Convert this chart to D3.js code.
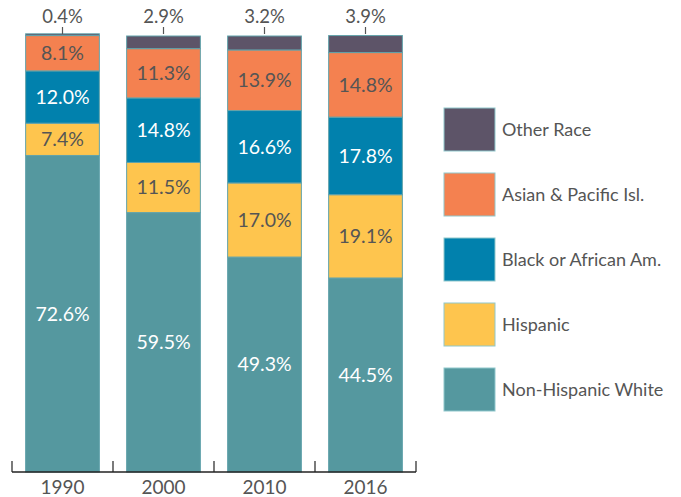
<!DOCTYPE html>
<html>
<head>
<meta charset="utf-8">
<script src="https://cdn.jsdelivr.net/npm/d3@7"></script>
<style>
  html, body { margin: 0; padding: 0; background: #fff; }
  svg { display: block; font-family: Lato, "Noto Sans", sans-serif; }
</style>
</head>
<body>
<svg id="chart" width="681" height="497"></svg>
<script>
const years = ["1990", "2000", "2010", "2016"];
const series = ["Non-Hispanic White", "Hispanic", "Black or African Am.", "Asian & Pacific Isl.", "Other Race"];
const white    = [72.6, 59.5, 49.3, 44.5];
const hispanic = [7.4, 11.5, 17.0, 19.1];
const black    = [12.0, 14.8, 16.6, 17.8];
const asian    = [8.1, 11.3, 13.9, 14.8];
const other    = [0.4, 2.9, 3.2, 3.9];
const colors = ["#55989f", "#fec54e", "#0181ad", "#f48150", "#5d5468"];
const labelColors = ["#ffffff", "#555555", "#ffffff", "#555555", "#555555"];

const values = [white, hispanic, black, asian, other];
const rows = years.map((yr, i) => {
  const r = { year: yr };
  series.forEach((s, k) => r[s] = values[k][i]);
  return r;
});

const svg = d3.select("#chart");
const x = d3.scaleBand().domain(years).range([12, 416]).paddingInner(0.27).paddingOuter(0.135);
const y = d3.scaleLinear().domain([0, 100]).range([472, 36]);

const stacked = d3.stack().keys(series)(rows);

const layers = svg.append("g").selectAll("g")
  .data(stacked).join("g")
  .attr("fill", (d, i) => colors[i]);

layers.selectAll("rect")
  .data(d => d)
  .join("rect")
  .attr("x", d => x(d.data.year))
  .attr("width", x.bandwidth())
  .attr("y", d => y(d[1]))
  .attr("height", d => y(d[0]) - y(d[1]))
  .attr("stroke", "#62a3ab")
  .attr("stroke-width", 1);

// labels inside segments (the top "Other Race" series is labelled above)
stacked.forEach((layer, i) => {
  if (i === series.length - 1) return;
  svg.append("g").selectAll("text")
    .data(layer).join("text")
    .attr("x", d => x(d.data.year) + x.bandwidth() / 2)
    .attr("y", d => (y(d[0]) + y(d[1])) / 2)
    .attr("dy", "0.35em")
    .attr("text-anchor", "middle")
    .attr("font-size", 19.5)
    .attr("fill", labelColors[i])
    .text(d => d.data[layer.key].toFixed(1) + "%");
});

// labels above bars for "Other Race"
const topLayer = stacked[series.length - 1];
svg.append("g").selectAll("text")
  .data(topLayer).join("text")
  .attr("x", d => x(d.data.year) + x.bandwidth() / 2)
  .attr("y", 22.5)
  .attr("text-anchor", "middle")
  .attr("font-size", 18.5)
  .attr("fill", "#555555")
  .text(d => d.data["Other Race"].toFixed(1) + "%");
svg.append("g").selectAll("line")
  .data(topLayer).join("line")
  .attr("x1", d => x(d.data.year) + x.bandwidth() / 2)
  .attr("x2", d => x(d.data.year) + x.bandwidth() / 2)
  .attr("y1", 27).attr("y2", 34)
  .attr("stroke", "#555").attr("stroke-width", 1.2);

// x axis
const axisG = svg.append("g").attr("transform", "translate(0,472)");
axisG.append("line")
  .attr("x1", x.range()[0]).attr("x2", x.range()[1])
  .attr("stroke", "#222").attr("stroke-width", 1.3);
const step = x.step();
const bounds = years.map(yr => x(yr) - step * x.paddingInner() / 2).concat([x.range()[1]]);
axisG.selectAll("line.tick").data(bounds).join("line")
  .attr("class", "tick")
  .attr("x1", d => d).attr("x2", d => d)
  .attr("y1", 0).attr("y2", -11)
  .attr("stroke", "#222").attr("stroke-width", 1.2);
axisG.selectAll("text").data(years).join("text")
  .attr("x", d => x(d) + x.bandwidth() / 2)
  .attr("y", 22)
  .attr("text-anchor", "middle")
  .attr("font-size", 19)
  .attr("fill", "#555555")
  .text(d => d);

// legend
const legendOrder = series.slice().reverse();
const legend = svg.append("g").attr("transform", "translate(444,108)");
const li = legend.selectAll("g").data(legendOrder).join("g")
  .attr("transform", (d, i) => `translate(0,${i * 65})`);
li.append("rect")
  .attr("width", 51).attr("height", 43)
  .attr("fill", d => colors[series.indexOf(d)])
  .attr("stroke", "#8fc7cc").attr("stroke-width", 1);
li.append("text")
  .attr("x", 58).attr("y", 21.5).attr("dy", "0.35em")
  .attr("font-size", 18)
  .attr("fill", "#555555")
  .text(d => d);
</script>
</body>
</html>
